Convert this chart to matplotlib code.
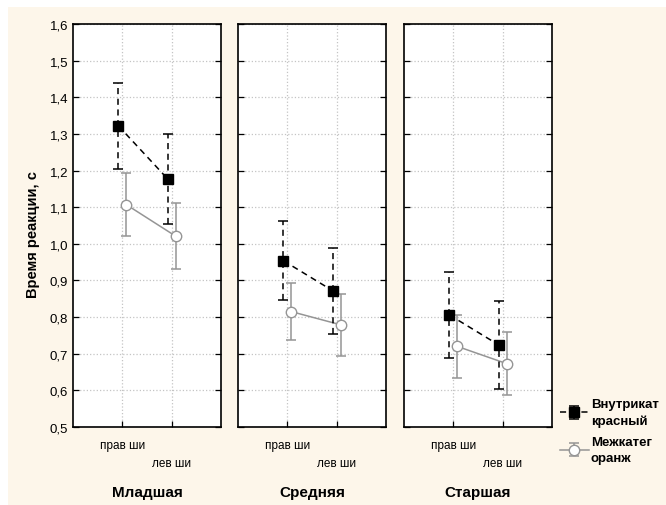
import matplotlib
matplotlib.use('Agg')
import matplotlib.pyplot as plt
import matplotlib.transforms as mtransforms
from matplotlib.patches import Rectangle

# data
groups = ["Младшая", "Средняя", "Старшая"]
hands = ["прав ши", "лев ши"]
series_names = ["Внутрикат\nкрасный", "Межкатег\nоранж"]

# mean and error half-widths per group, per hand
vnutr_mean = [[1.322, 1.177], [0.954, 0.872], [0.806, 0.724]]
vnutr_err = [[0.117, 0.124], [0.108, 0.117], [0.117, 0.120]]
mezh_mean = [[1.107, 1.021], [0.815, 0.779], [0.720, 0.673]]
mezh_err = [[0.086, 0.090], [0.078, 0.085], [0.086, 0.087]]

yticks = [0.5, 0.6, 0.7, 0.8, 0.9, 1.0, 1.1, 1.2, 1.3, 1.4, 1.5, 1.6]

plt.rcParams['font.family'] = ['Liberation Sans', 'DejaVu Sans']

W, H = 666, 506
fig = plt.figure(figsize=(W/100, H/100), dpi=100)
fig.patch.set_facecolor('white')
fig.patches.append(Rectangle((8/W, 0), 1, 1 - 8/H, transform=fig.transFigure,
                             facecolor='#fdf6ea', edgecolor='none', zorder=-10))

lefts = [73, 238, 404]
pw = 148
bottom, top = 428, 25
gray = '#959595'
handles = []

for i, g in enumerate(groups):
    ax = fig.add_axes([lefts[i]/W, (H-bottom)/H, pw/W, (bottom-top)/H])
    ax.set_facecolor('white')
    xs = [1, 2]
    xb = [x - 0.08 for x in xs]
    xw = [x + 0.08 for x in xs]
    c1 = ax.errorbar(xb, vnutr_mean[i], yerr=vnutr_err[i], color='black', ls='--',
                     lw=1.1, marker='s', ms=7.5, mfc='black', mec='black',
                     capsize=3.5, capthick=1.1, elinewidth=1.1, dashes=(4, 3), zorder=4)
    for ln in c1[2]:
        ln.set_linestyle((0, (4, 3)))
    c2 = ax.errorbar(xw, mezh_mean[i], yerr=mezh_err[i], color=gray, ls='-',
                     lw=1.1, marker='o', ms=7.5, mfc='white', mec=gray,
                     capsize=3.5, capthick=1.1, elinewidth=1.1, zorder=3)
    handles = [c1, c2]

    ax.set_xlim(0, 3)
    ax.set_ylim(0.5, 1.6)
    ax.set_yticks(yticks)
    ax.set_xticks(xs)
    ax.grid(True, color='#c4c4c4', ls=':', lw=0.9)
    ax.set_axisbelow(True)
    for s in ax.spines.values():
        s.set_linewidth(1.2)
    ax.tick_params(direction='in', length=4, width=0.9, right=True, top=False,
                   labelsize=9.5)
    if i == 0:
        ax.set_yticklabels([("%.1f" % v).replace('.', ',') for v in yticks])
        ax.set_ylabel("Время реакции, с", fontsize=10.5, fontweight='bold')
        ax.yaxis.set_label_coords(-0.225, 0.48)
    else:
        ax.set_yticklabels([])
    ax.set_xticklabels(hands, fontsize=8.5)
    ax.tick_params(axis='x', pad=9)
    lab = ax.get_xticklabels()[1]
    lab.set_transform(lab.get_transform() +
                      mtransforms.ScaledTranslation(0, -18/100, fig.dpi_scale_trans))
    ax.set_xlabel(g, fontsize=11, fontweight='bold', va='center')
    ax.xaxis.set_label_coords(0.5, -65/403)

leg = fig.legend(handles=handles, labels=series_names, loc='upper left',
                 bbox_to_anchor=(548/W, 1 - 387/H), frameon=False,
                 prop={'size': 9.5, 'weight': 'bold'}, handlelength=2.2,
                 handletextpad=0.15, labelspacing=0.7)
for t in leg.get_texts():
    t.set_linespacing(1.45)

fig.savefig('out.png', dpi=100)
